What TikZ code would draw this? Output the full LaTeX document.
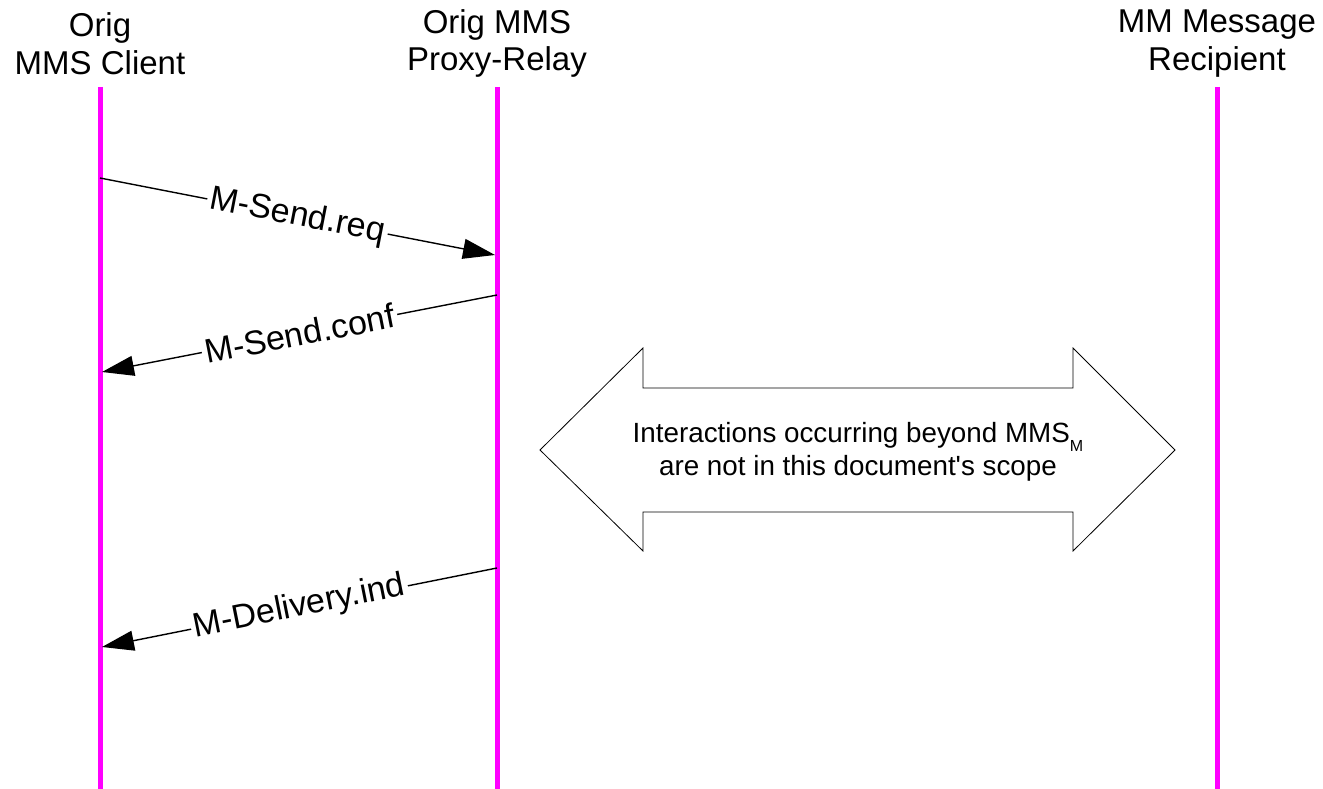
\documentclass[tikz,border=0pt]{standalone}
\usepackage{fontspec}
\setmainfont{Liberation Sans}
% same face without the TeX quote mapping, so ' stays a straight apostrophe
\newfontfamily\straightfont{Liberation Sans}[Ligatures=TeXOff]
\usetikzlibrary{arrows.meta}
\definecolor{lifeline}{RGB}{255,0,255}
\tikzset{
  lifeline/.style={draw=lifeline, line width=5pt},
  head/.style={align=center, inner sep=0pt, font=\fontsize{33}{37.5}\selectfont},
  msg/.style={draw=black, line width=1.4pt, -{Triangle[length=32pt,width=20pt]}},
  msglabel/.style={midway, sloped, fill=white, inner sep=3pt, font=\fontsize{34}{38}\selectfont},
  scopearrow/.style={draw=black, line width=0.8pt, fill=white},
  scopetext/.style={align=center, inner sep=0pt, font=\straightfont\fontsize{27.8}{32.5}\selectfont}
}
\begin{document}
\begin{tikzpicture}[x=1pt, y=-1pt]
  \useasboundingbox (0,0) rectangle (1323,789);

  % participants
  \node[head] (client) at (100,43.5) {Orig\\MMS Client};
  \node[head] (proxy) at (497,43.5) {Orig MMS\\Proxy-Relay};
  \node[head] (recip) at (1217,43.5) {MM Message\\Recipient};

  % lifelines
  \coordinate (cT) at (100,87);   \coordinate (cB) at (100,789);
  \coordinate (pT) at (497,87);   \coordinate (pB) at (497,789);
  \coordinate (rT) at (1217,87);  \coordinate (rB) at (1217,789);
  \draw[lifeline] (cT) -- (cB);
  \draw[lifeline] (pT) -- (pB);
  \draw[lifeline] (rT) -- (rB);

  % message end points on the lifelines
  \coordinate (m1s) at (100,178);  \coordinate (m1e) at (495,255);
  \coordinate (m2s) at (497,295);  \coordinate (m2e) at (102,372);
  \coordinate (m3s) at (497,568);  \coordinate (m3e) at (102,647);

  \draw[msg] (m1s) -- (m1e) node[msglabel] {M-Send.req};
  \draw[msg] (m2s) -- (m2e) node[msglabel] {M-Send.conf};
  \draw[msg] (m3s) -- (m3e) node[msglabel] {M-Delivery.ind};

  % out-of-scope double arrow
  \draw[scopearrow] (540,450) -- (643,348) -- (643,388) -- (1073,388) -- (1073,348)
    -- (1175,450) -- (1073,551) -- (1073,512) -- (643,512) -- (643,551) -- cycle;
  \node[scopetext] (scope) at (858,452)
    {Interactions occurring beyond MMS\raisebox{-0.3em}{\fontsize{16}{16}\selectfont M}\\are not in this document's scope};
\end{tikzpicture}
\end{document}
